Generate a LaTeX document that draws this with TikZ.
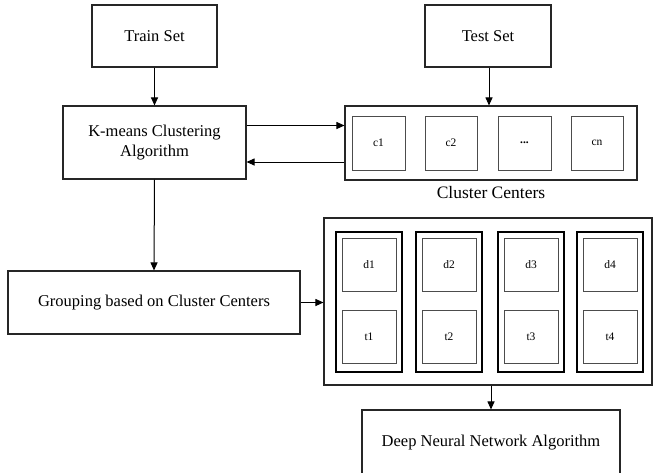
\documentclass[tikz,border=0pt]{standalone}
\usepackage{fontspec}
\setmainfont{Liberation Serif}
\usetikzlibrary{arrows.meta,calc}

\tikzset{
  box/.style={draw=black!85, line width=1.1pt, rectangle, inner sep=0pt, align=center,
              font=\fontsize{16.5}{20}\selectfont},
  cell/.style={draw=black!70, line width=0.9pt, rectangle, inner sep=0pt,
               minimum width=53pt, minimum height=53pt, font=\fontsize{11.5}{14}\selectfont},
  group/.style={draw=black, line width=2.2pt, rectangle, inner sep=0pt,
                minimum width=66pt, minimum height=140pt},
  arr/.style={draw=black, line width=1pt, -{Triangle[length=8pt,width=7pt]}},
}

\begin{document}
\begin{tikzpicture}[x=1pt, y=-1pt]
\useasboundingbox (0,0) rectangle (653,472);

% input sets
\node[box, minimum width=125pt, minimum height=62pt] (train) at (154.5,36) {Train Set};
\node[box, minimum width=126pt, minimum height=62pt] (test) at (488,36) {Test Set};

% clustering step
\node[box, minimum width=183pt, minimum height=73pt] (kmeans) at (154.5,142.5)
  {K-means Clustering\\Algorithm};

% cluster centres container
\node[box, minimum width=292pt, minimum height=74pt] (centers) at (491,143) {};
\node[cell, minimum width=53pt, minimum height=54pt] (c1) at (378.5,143) {c1};
\node[cell, minimum width=52pt, minimum height=54pt] (c2) at (451,143) {c2};
\node[cell, minimum width=53pt, minimum height=54pt] (cdots) at (524.5,143) {\textbf{...}};
\node[cell, minimum width=52pt, minimum height=54pt] (cn) at (597,143) {cn};
\node[font=\fontsize{17.5}{20}\selectfont] (clabel) at (491,193) {Cluster Centers};

% grouping step
\node[box, minimum width=292pt, minimum height=63pt] (grouping) at (154,302.5)
  {Grouping based on Cluster Centers};

% groups container
\node[box, minimum width=328pt, minimum height=167pt] (groups) at (488,301.5) {};
\foreach \i/\x in {1/369, 2/449, 3/531, 4/610} {
  \node[group] (g\i) at (\x,302) {};
  \node[cell, minimum width=54pt] (d\i) at (\x,264.5) {d\i};
  \node[cell, minimum width=54pt] (t\i) at (\x,336.5) {t\i};
}

% network
\node[box, minimum width=258pt, minimum height=66pt] (dnn) at (491,443)
  {Deep Neural Network Algorithm};

% connectors
\draw[arr] (train.south) -- (kmeans.north);
\draw[arr] (test.south -| 489,0) -- (centers.north -| 489,0);
\draw[arr] ([yshift=17pt]kmeans.east) -- ([yshift=17pt]kmeans.east -| centers.west);
\draw[arr] ([yshift=-19.5pt]kmeans.east -| centers.west) -- ([yshift=-19.5pt]kmeans.east);
\draw[arr] (kmeans.south) -- (grouping.north);
\draw[arr] (grouping.east) -- (grouping.east -| groups.west);
\draw[arr] (groups.south -| dnn.north) -- (dnn.north);
\end{tikzpicture}
\end{document}
